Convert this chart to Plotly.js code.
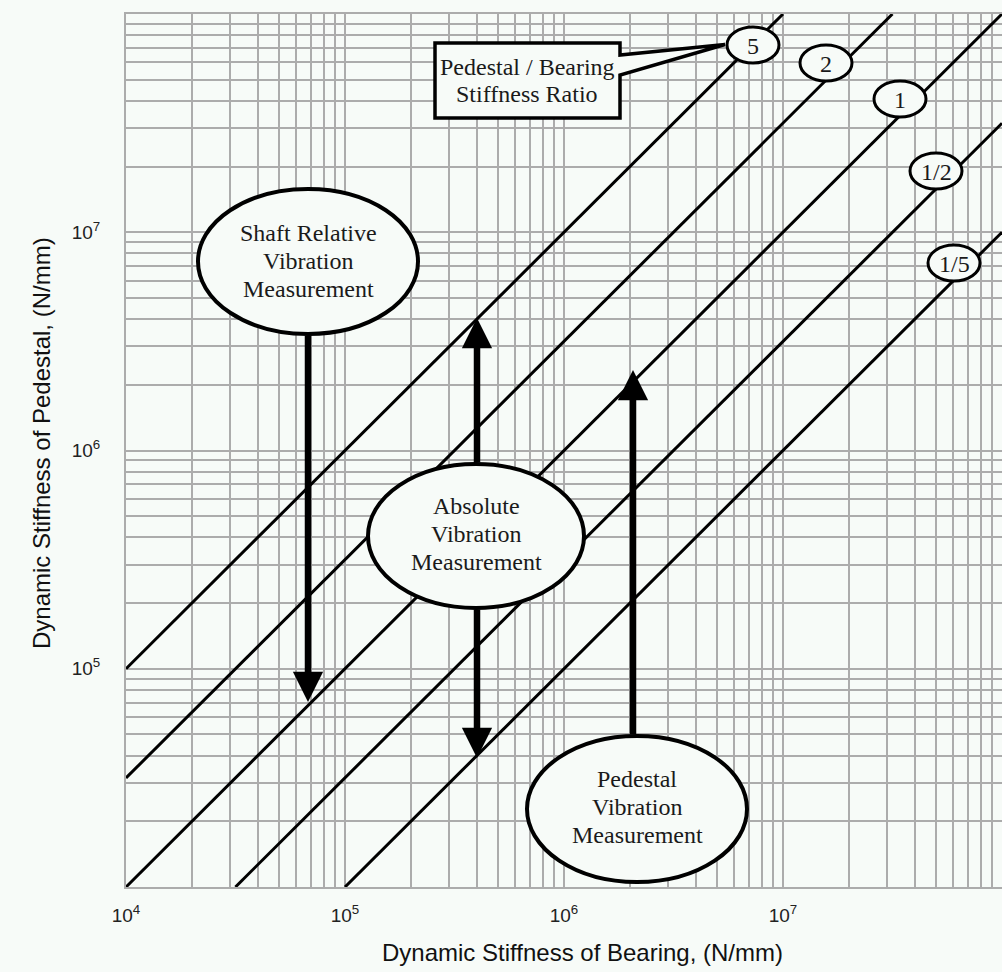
<!DOCTYPE html>
<html>
<head>
<meta charset="utf-8">
<script src="https://cdn.plot.ly/plotly-3.0.1.min.js"></script>
<style>html,body{margin:0;padding:0;background:#f7fbf8;}</style>
</head>
<body>
<div id="chart" style="width:1002px;height:972px;"></div>
<script>
// ---- data ----
const ratioLabels = ['5', '2', '1', '1/2', '1/5'];
const lineXStart = [1e4, 1e4, 1e4, 3.16e4, 1e5];
const lineYStart = [1e5, 3.16e4, 1e4, 1e4, 1e4];
const lineXEnd = [1e7, 3.16e7, 1e8, 1e8, 1e8];
const lineYEnd = [1e8, 1e8, 1e8, 3.16e7, 1e7];

const decades = [1e4, 1e5, 1e6, 1e7, 1e8];
const xDecadeLabels = ['10<sup>4</sup>', '10<sup>5</sup>', '10<sup>6</sup>', '10<sup>7</sup>', ''];
const yDecadeLabels = ['', '10<sup>5</sup>', '10<sup>6</sup>', '10<sup>7</sup>', ''];
const minorMultiples = [2, 3, 4, 5, 6, 7, 8, 9];

const xTitle = 'Dynamic Stiffness of Bearing, (N/mm)';
const yTitle = 'Dynamic Stiffness of Pedestal, (N/mm)';
const boxText = ['Pedestal / Bearing', 'Stiffness Ratio'];
const shaftText = ['Shaft Relative', 'Vibration', 'Measurement'];
const absText = ['Absolute', 'Vibration', 'Measurement'];
const pedText = ['Pedestal', 'Vibration', 'Measurement'];

// ---- styling / layout helpers ----
const BG = '#f7fbf8';
const GRID = '#acacac';
const SERIF = 'Liberation Serif, Times New Roman, serif';
const SANS = 'Liberation Sans, Arial, sans-serif';
const L = 126, T = 14, PW = 876, PH = 873;
const X = px => (px - L) / PW;
const Y = py => (T + PH - py) / PH;

function buildTicks(labels) {
  const vals = [], text = [];
  for (let i = 0; i < decades.length; i++) {
    vals.push(decades[i]); text.push(labels[i]);
    if (i < decades.length - 1) {
      minorMultiples.forEach(m => { vals.push(decades[i] * m); text.push(''); });
    }
  }
  return {vals, text};
}
const xt = buildTicks(xDecadeLabels);
const yt = buildTicks(yDecadeLabels);

const traces = ratioLabels.map((lab, i) => ({
  type: 'scatter', mode: 'lines', name: lab,
  x: [lineXStart[i], lineXEnd[i]],
  y: [lineYStart[i], lineYEnd[i]],
  line: {color: '#000', width: 3},
  hoverinfo: 'skip', showlegend: false
}));

const shapes = [];
const annotations = [];

function ellipse(cx, cy, rx, ry, w) {
  shapes.push({type: 'circle', xref: 'paper', yref: 'paper',
    x0: X(cx - rx), x1: X(cx + rx), y0: Y(cy + ry), y1: Y(cy - ry),
    line: {color: '#000', width: w}, fillcolor: BG, layer: 'above'});
}
function text(s, cx, cy, size, family, color, angle) {
  annotations.push({xref: 'paper', yref: 'paper', x: X(cx), y: Y(cy),
    xanchor: 'center', yanchor: 'middle', showarrow: false, text: s,
    textangle: angle || 0,
    font: {family: family, size: size, color: color || '#1a1a1a'}});
}
function arrow(px, tipY, tailY) {
  annotations.push({xref: 'paper', yref: 'paper', x: X(px), y: Y(tipY),
    ax: 0, ay: tailY - tipY, text: '', showarrow: true,
    arrowhead: 2, arrowsize: 0.93, arrowwidth: 6.5, arrowcolor: '#000'});
}

// callout box
const bx0 = 435, bx1 = 620, by0 = 43, by1 = 118;
const p = (a, b) => X(a).toFixed(5) + ',' + Y(b).toFixed(5);
shapes.push({type: 'path', xref: 'paper', yref: 'paper',
  path: 'M' + p(bx0, by0) + 'L' + p(bx1, by0) + 'L' + p(bx1, 55) + 'L' + p(725, 44.5) +
        'L' + p(bx1, 75) + 'L' + p(bx1, by1) + 'L' + p(bx0, by1) + 'Z',
  line: {color: '#000', width: 3.5}, fillcolor: BG, layer: 'above'});
text(boxText[0], 527, 67, 24, SERIF);
text(boxText[1], 527, 94, 24, SERIF);

// ratio label ellipses
const labelPos = [[753, 45], [826, 63], [900, 99], [936, 171], [954, 263]];
ratioLabels.forEach((lab, i) => {
  ellipse(labelPos[i][0], labelPos[i][1], 26, 18, 3);
  text(lab, labelPos[i][0], labelPos[i][1] + 1, 24, SERIF);
});

// big ellipses
ellipse(308, 261.5, 110, 72.5, 4);
[233, 261, 289].forEach((yy, i) => text(shaftText[i], 308, yy, 24, SERIF));
ellipse(476, 536, 108, 72, 4);
[506, 534, 562].forEach((yy, i) => text(absText[i], 476, yy, 24, SERIF));
ellipse(637, 809, 110, 73, 4);
[779, 807, 835].forEach((yy, i) => text(pedText[i], 637, yy, 24, SERIF));

// arrows
arrow(308, 702, 334);
arrow(477, 318, 464);
arrow(477, 758, 608);
arrow(633, 370, 736);

// axis titles
text(xTitle, 582, 952, 24, SANS, '#111');
text(yTitle, 41, 443, 24, SANS, '#111', -90);

const axisBase = {
  type: 'log', range: [4, 8], tickmode: 'array',
  showgrid: true, gridcolor: GRID, gridwidth: 2, zeroline: false,
  showline: true, linecolor: GRID, linewidth: 2, mirror: true,
  ticks: '', tickfont: {family: SANS, size: 19, color: '#222'}
};

const layout = {
  width: 1002, height: 972,
  margin: {l: L, r: 1002 - L - PW, t: T, b: 972 - T - PH},
  paper_bgcolor: BG, plot_bgcolor: BG,
  showlegend: false,
  xaxis: Object.assign({}, axisBase, {tickvals: xt.vals, ticktext: xt.text, ticklabelstandoff: 10}),
  yaxis: Object.assign({}, axisBase, {tickvals: yt.vals, ticktext: yt.text, ticklabelstandoff: 20}),
  shapes: shapes,
  annotations: annotations
};

Plotly.newPlot('chart', traces, layout, {displayModeBar: false, staticPlot: true});
</script>
</body>
</html>
